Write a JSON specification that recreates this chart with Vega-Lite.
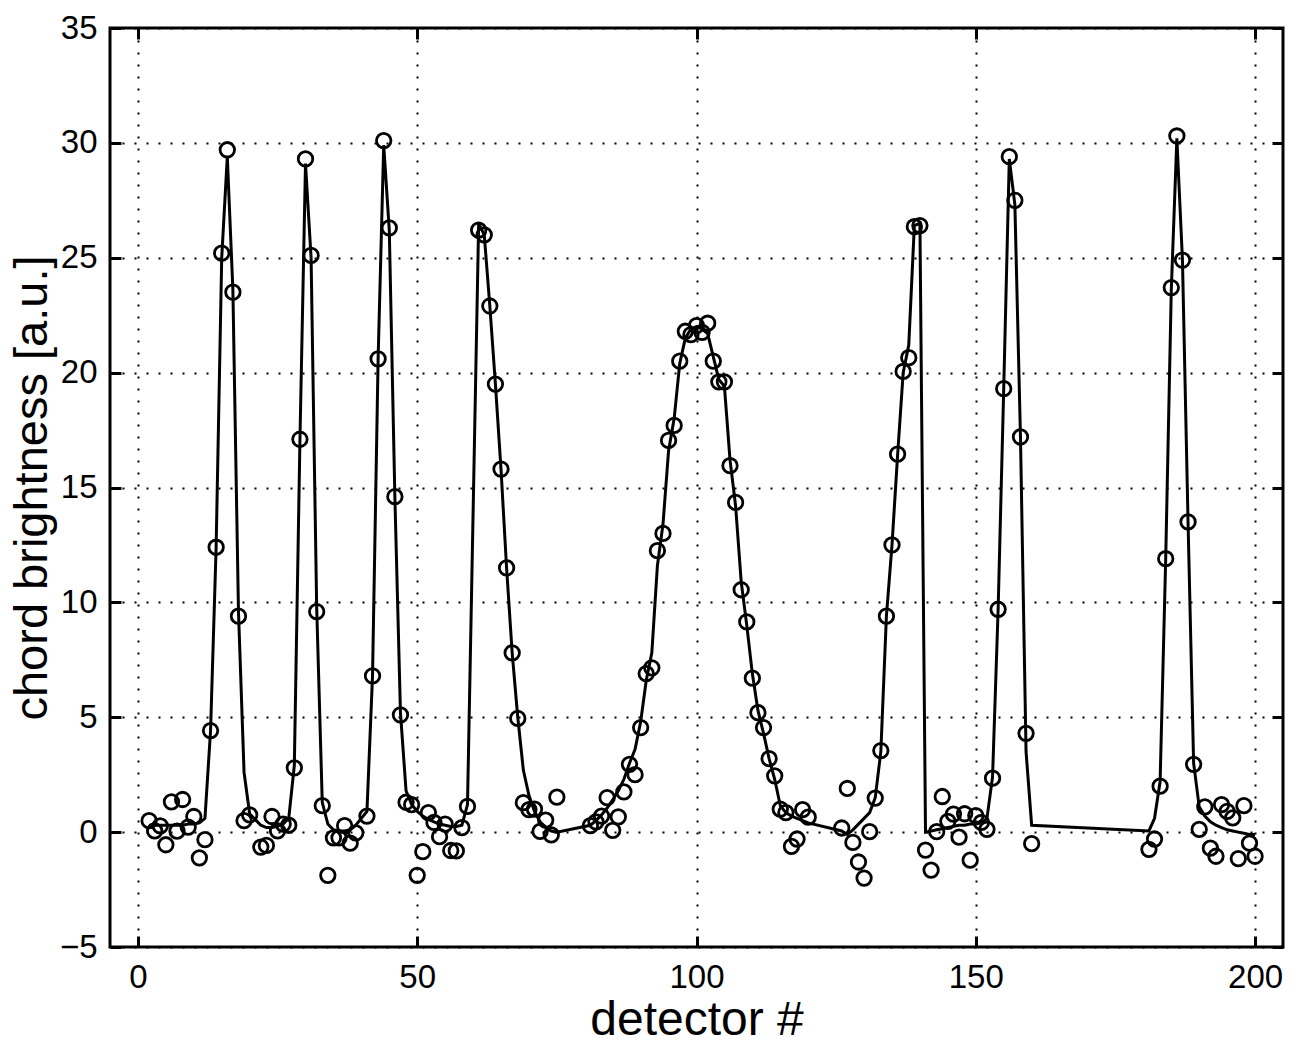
{
  "$schema": "https://vega.github.io/schema/vega-lite/v6.json",
  "width": 1173,
  "height": 919,
  "autosize": {"type": "none"},
  "padding": {"left": 110, "top": 28, "right": 17, "bottom": 105},
  "config": {
    "view": {"stroke": "black", "strokeWidth": 3},
    "font": "Liberation Sans",
    "axis": {"labelFont": "Liberation Sans", "titleFont": "Liberation Sans", "labelColor": "black", "titleColor": "black", "titleFontWeight": "normal", "tickColor": "black", "domain": false}
  },
  "data": {"values": [
    {"d":2,"b":0.5,"f":0.3},{"d":3,"b":0.05,"f":0.3},{"d":4,"b":0.27,"f":0.3},{"d":5,"b":-0.55,"f":0.3},{"d":6,"b":1.32,"f":0.3},
    {"d":7,"b":0.04,"f":0.3},{"d":8,"b":1.42,"f":0.3},{"d":9,"b":0.22,"f":0.35},{"d":10,"b":0.68,"f":0.35},{"d":11,"b":-1.12,"f":0.4},
    {"d":12,"b":-0.33,"f":0.6},{"d":13,"b":4.42,"f":4.4},{"d":14,"b":12.4,"f":12.4},{"d":15,"b":25.2,"f":25.0},{"d":16,"b":29.7,"f":29.4},
    {"d":17,"b":23.5,"f":23.6},{"d":18,"b":9.4,"f":9.6},{"d":19,"b":0.5,"f":2.6},{"d":20,"b":0.75,"f":0.8},{"d":22,"b":-0.65,"f":0.3},
    {"d":23,"b":-0.58,"f":0.2},{"d":24,"b":0.68,"f":0.2},{"d":25,"b":0.05,"f":0.25},{"d":26,"b":0.35,"f":0.35},{"d":27,"b":0.3,"f":0.6},
    {"d":28,"b":2.8,"f":2.9},{"d":29,"b":17.1,"f":17.0},{"d":30,"b":29.3,"f":29.1},{"d":31,"b":25.1,"f":25.0},{"d":32,"b":9.6,"f":9.8},
    {"d":33,"b":1.15,"f":1.3},{"d":34,"b":-1.88,"f":0.35},{"d":35,"b":-0.25,"f":0.1},{"d":36,"b":-0.25,"f":0.05},{"d":37,"b":0.28,"f":0.05},
    {"d":38,"b":-0.48,"f":0.1},{"d":39,"b":-0.03,"f":0.3},{"d":41,"b":0.7,"f":0.9},{"d":42,"b":6.8,"f":6.8},{"d":43,"b":20.6,"f":20.6},
    {"d":44,"b":30.1,"f":29.9},{"d":45,"b":26.3,"f":26.2},{"d":46,"b":14.6,"f":14.6},{"d":47,"b":5.1,"f":5.2},{"d":48,"b":1.3,"f":1.8},
    {"d":49,"b":1.2,"f":1.2},{"d":50,"b":-1.88,"f":0.9},{"d":51,"b":-0.85,"f":0.7},{"d":52,"b":0.85,"f":0.55},{"d":53,"b":0.42,"f":0.45},
    {"d":54,"b":-0.2,"f":0.35},{"d":55,"b":0.35,"f":0.3},{"d":56,"b":-0.8,"f":0.25},{"d":57,"b":-0.82,"f":0.25},{"d":58,"b":0.2,"f":0.3},
    {"d":59,"b":1.12,"f":1.2},{"d":61,"b":26.2,"f":26.5},{"d":62,"b":26.0,"f":26.0},{"d":63,"b":22.9,"f":22.9},{"d":64,"b":19.5,"f":19.5},
    {"d":65,"b":15.8,"f":15.8},{"d":66,"b":11.5,"f":11.5},{"d":67,"b":7.8,"f":7.8},{"d":68,"b":4.95,"f":5.0},{"d":69,"b":1.28,"f":2.7},
    {"d":70,"b":0.98,"f":1.6},{"d":71,"b":1.0,"f":0.9},{"d":72,"b":0.03,"f":0.45},{"d":73,"b":0.52,"f":0.2},{"d":74,"b":-0.12,"f":0.05},
    {"d":75,"b":1.52,"f":0.0},{"d":81,"b":0.28,"f":0.3},{"d":82,"b":0.45,"f":0.5},{"d":83,"b":0.7,"f":0.75},{"d":84,"b":1.5,"f":1.05},
    {"d":85,"b":0.08,"f":1.4},{"d":86,"b":0.66,"f":1.8},{"d":87,"b":1.75,"f":2.3},{"d":88,"b":2.95,"f":3.0},{"d":89,"b":2.5,"f":3.6},
    {"d":90,"b":4.55,"f":4.8},{"d":91,"b":6.9,"f":6.6},{"d":92,"b":7.15,"f":7.8},{"d":93,"b":12.25,"f":11.6},{"d":94,"b":13.0,"f":13.4},
    {"d":95,"b":17.05,"f":16.6},{"d":96,"b":17.7,"f":18.0},{"d":97,"b":20.5,"f":20.4},{"d":98,"b":21.8,"f":21.5},{"d":99,"b":21.65,"f":21.9},
    {"d":100,"b":22.05,"f":22.0},{"d":101,"b":21.75,"f":21.9},{"d":102,"b":22.15,"f":21.7},{"d":103,"b":20.5,"f":20.7},{"d":104,"b":19.6,"f":19.7},
    {"d":105,"b":19.6,"f":19.4},{"d":106,"b":15.95,"f":16.2},{"d":107,"b":14.35,"f":14.2},{"d":108,"b":10.55,"f":10.9},{"d":109,"b":9.15,"f":9.0},
    {"d":110,"b":6.7,"f":6.9},{"d":111,"b":5.2,"f":5.3},{"d":112,"b":4.55,"f":4.3},{"d":113,"b":3.2,"f":3.2},{"d":114,"b":2.45,"f":2.3},
    {"d":115,"b":1.0,"f":1.15},{"d":116,"b":0.85,"f":0.85},{"d":117,"b":-0.62,"f":0.7},{"d":118,"b":-0.3,"f":0.6},{"d":119,"b":0.98,"f":0.5},
    {"d":120,"b":0.65,"f":0.4},{"d":126,"b":0.18,"f":0.05},{"d":127,"b":1.9,"f":-0.1},{"d":128,"b":-0.45,"f":0.1},{"d":129,"b":-1.3,"f":0.35},
    {"d":130,"b":-2.0,"f":0.6},{"d":131,"b":0.02,"f":0.85},{"d":132,"b":1.48,"f":1.5},{"d":133,"b":3.55,"f":3.5},{"d":134,"b":9.4,"f":9.4},
    {"d":135,"b":12.5,"f":12.5},{"d":136,"b":16.45,"f":16.4},{"d":137,"b":20.05,"f":20.0},{"d":138,"b":20.65,"f":21.2},{"d":139,"b":26.35,"f":26.4},
    {"d":140,"b":26.4,"f":26.5},{"d":141,"b":-0.78,"f":0.0},{"d":142,"b":-1.65,"f":0.05},{"d":143,"b":0.02,"f":0.1},{"d":144,"b":1.55,"f":0.15},
    {"d":145,"b":0.47,"f":0.2},{"d":146,"b":0.78,"f":0.25},{"d":147,"b":-0.22,"f":0.3},{"d":148,"b":0.8,"f":0.3},{"d":149,"b":-1.22,"f":0.35},
    {"d":150,"b":0.72,"f":0.35},{"d":151,"b":0.42,"f":0.4},{"d":152,"b":0.12,"f":0.6},{"d":153,"b":2.35,"f":2.4},{"d":154,"b":9.7,"f":9.7},
    {"d":155,"b":19.3,"f":19.3},{"d":156,"b":29.4,"f":29.3},{"d":157,"b":27.5,"f":27.3},{"d":158,"b":17.2,"f":17.2},{"d":159,"b":4.3,"f":3.5},
    {"d":160,"b":-0.5,"f":0.3},{"d":181,"b":-0.75,"f":0.05},{"d":182,"b":-0.3,"f":0.6},{"d":183,"b":2.0,"f":2.2},{"d":184,"b":11.9,"f":11.9},
    {"d":185,"b":23.7,"f":23.6},{"d":186,"b":30.3,"f":30.2},{"d":187,"b":24.9,"f":24.9},{"d":188,"b":13.5,"f":13.5},{"d":189,"b":2.95,"f":3.0},
    {"d":190,"b":0.12,"f":1.1},{"d":191,"b":1.1,"f":0.7},{"d":192,"b":-0.7,"f":0.45},{"d":193,"b":-1.05,"f":0.3},{"d":194,"b":1.2,"f":0.2},
    {"d":195,"b":0.9,"f":0.1},{"d":196,"b":0.62,"f":0.05},{"d":197,"b":-1.15,"f":0.0},{"d":198,"b":1.15,"f":-0.05},{"d":199,"b":-0.48,"f":-0.1},
    {"d":200,"b":-1.05,"f":-0.1}
  ]},
  "layer": [
    {
      "mark": {"type": "line", "color": "black", "strokeWidth": 3},
      "encoding": {
        "x": {"field": "d", "type": "quantitative", "scale": {"domain": [-5, 205], "nice": false, "zero": false},
          "axis": {"orient": "top", "labels": false, "title": null, "grid": false, "values": [0, 50, 100, 150, 200], "tickSize": -11, "tickWidth": 3}},
        "y": {"field": "f", "type": "quantitative", "scale": {"domain": [-5, 35], "nice": false, "zero": false},
          "axis": {"orient": "right", "labels": false, "title": null, "grid": false, "values": [-5, 0, 5, 10, 15, 20, 25, 30, 35], "tickSize": -11, "tickWidth": 3}}
      }
    },
    {
      "mark": {"type": "point", "shape": "circle", "filled": false, "stroke": "black", "strokeWidth": 2.8, "size": 210, "opacity": 1},
      "encoding": {
        "x": {"field": "d", "type": "quantitative", "scale": {"domain": [-5, 205], "nice": false, "zero": false},
          "axis": {"orient": "bottom", "title": "detector #", "values": [0, 50, 100, 150, 200], "grid": true, "gridColor": "black", "gridDash": [2, 10], "gridWidth": 2, "gridOpacity": 1, "tickSize": -11, "tickWidth": 3, "labelFontSize": 33, "labelPadding": 25, "titleFontSize": 48, "titlePadding": 2}},
        "y": {"field": "b", "type": "quantitative", "scale": {"domain": [-5, 35], "nice": false, "zero": false},
          "axis": {"orient": "left", "title": "chord brightness [a.u.]", "values": [-5, 0, 5, 10, 15, 20, 25, 30, 35], "grid": true, "gridColor": "black", "gridDash": [2, 10], "gridWidth": 2, "gridOpacity": 1, "tickSize": -11, "tickWidth": 3, "labelFontSize": 33, "labelPadding": 24, "titleFontSize": 47, "titlePadding": 3}}
      }
    }
  ],
  "resolve": {"axis": {"x": "independent", "y": "independent"}}
}
